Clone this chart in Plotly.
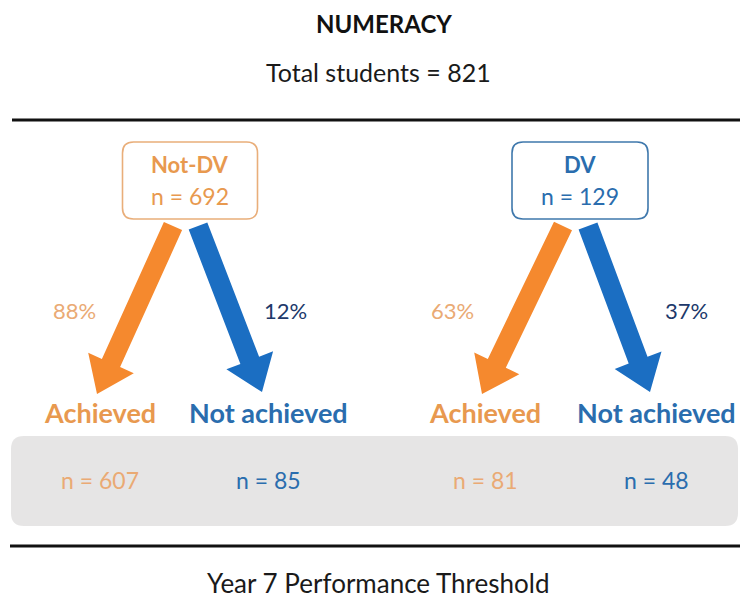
import math
import plotly.graph_objects as go

# ---- data ----
groups = ["Not-DV", "DV"]
group_n = [692, 129]
total_students = 821
achieved_pct = [88, 63]
not_achieved_pct = [12, 37]
achieved_n = [607, 81]
not_achieved_n = [85, 48]
outcome_labels = ["Achieved", "Not achieved"]
title = "NUMERACY"
footer = "Year 7 Performance Threshold"

# ---- style ----
W, H = 740, 601
FONT = "Lato"
ORANGE = "#F5892E"
ORANGE_T = "#E8994F"
ORANGE_L = "#EAAA74"
BLUE = "#1B6EC2"
BLUE_T = "#2A6DAE"
NAVY = "#20386A"
BOX_COLORS = ["#E9AE7A", "#3F78AC"]
GROUP_TEXT = [ORANGE_T, BLUE_T]

centers = [190, 580]          # group centre x
box_w = [135, 136]
box_top, box_bot = 142, 219
arrow_top = 226
tip_y = 394
ach_x = [100, 485]
not_x = [268, 656]
pct_ach_x = [74, 452]
pct_not_x = [285, 686]

fig = go.Figure()
shapes = []
annotations = []


def rrect(x0, y0, x1, y1, r):
    return (f"M {x0+r},{y0} L {x1-r},{y0} Q {x1},{y0} {x1},{y0+r} "
            f"L {x1},{y1-r} Q {x1},{y1} {x1-r},{y1} L {x0+r},{y1} "
            f"Q {x0},{y1} {x0},{y1-r} L {x0},{y0+r} Q {x0},{y0} {x0+r},{y0} Z")


def arrow(xs, ys, xe, ye, sw=20, hw=50, hl=34):
    dx, dy = xe - xs, ye - ys
    L = math.hypot(dx, dy)
    ux, uy = dx / L, dy / L
    px, py = -uy, ux
    bx, by = xe - ux * hl, ye - uy * hl
    pts = [
        (xs + px * sw / 2, ys + py * sw / 2),
        (bx + px * sw / 2, by + py * sw / 2),
        (bx + px * hw / 2, by + py * hw / 2),
        (xe, ye),
        (bx - px * hw / 2, by - py * hw / 2),
        (bx - px * sw / 2, by - py * sw / 2),
        (xs - px * sw / 2, ys - py * sw / 2),
    ]
    return "M " + " L ".join(f"{x:.1f},{y:.1f}" for x, y in pts) + " Z"


def text(x, y, s, size, color, bold=False):
    annotations.append(dict(
        x=x, y=y, xref="x", yref="y", text=f"<b>{s}</b>" if bold else s,
        showarrow=False, font=dict(family=FONT, size=size, color=color),
        xanchor="center", yanchor="middle"))


# header
text(384, 23, title, 24, "#111", bold=True)
text(378, 72, f"Total students = {total_students}", 25, "#1a1a1a")
shapes.append(dict(type="line", x0=12, x1=740, y0=120, y1=120,
                   line=dict(color="#111", width=3)))

# grey band
shapes.append(dict(type="path", path=rrect(11, 436, 738, 526, 13),
                   fillcolor="#E6E5E5", line=dict(width=0), layer="below"))

for i, g in enumerate(groups):
    cx = centers[i]
    bw = box_w[i]
    shapes.append(dict(type="path",
                       path=rrect(cx - bw / 2, box_top, cx + bw / 2, box_bot, 11),
                       line=dict(color=BOX_COLORS[i], width=1.6),
                       fillcolor="white"))
    text(cx, 164, g, 22, GROUP_TEXT[i], bold=True)
    text(cx, 196, f"n = {group_n[i]}", 23, GROUP_TEXT[i])

    # arrows
    shapes.append(dict(type="path", path=arrow(cx - 17, arrow_top, ach_x[i] - 3, tip_y),
                       fillcolor=ORANGE, line=dict(width=0)))
    shapes.append(dict(type="path", path=arrow(cx + 8, arrow_top, not_x[i] - 6, tip_y - 2),
                       fillcolor=BLUE, line=dict(width=0)))

    text(pct_ach_x[i], 310, f"{achieved_pct[i]}%", 22, ORANGE_L)
    text(pct_not_x[i], 310, f"{not_achieved_pct[i]}%", 22, NAVY)

    text(ach_x[i], 412, outcome_labels[0], 27, ORANGE_T, bold=True)
    text(not_x[i], 412, outcome_labels[1], 27, BLUE_T, bold=True)

    text(ach_x[i], 480, f"n = {achieved_n[i]}", 23, ORANGE_L)
    text(not_x[i], 480, f"n = {not_achieved_n[i]}", 23, BLUE_T)

# footer
shapes.append(dict(type="line", x0=10, x1=740, y0=546, y1=546,
                   line=dict(color="#111", width=3)))
text(378, 583, footer, 26, "#1a1a1a")

fig.update_layout(
    width=W, height=H, margin=dict(l=0, r=0, t=0, b=0),
    paper_bgcolor="white", plot_bgcolor="white",
    xaxis=dict(range=[0, W], visible=False, fixedrange=True),
    yaxis=dict(range=[H, 0], visible=False, fixedrange=True),
    shapes=shapes, annotations=annotations, showlegend=False,
)
fig.write_html(
    "out.html",
    config={"displayModeBar": False},
    post_script="document.body.style.margin='0';document.body.style.padding='0';"
                "document.documentElement.style.overflow='hidden';",
)
